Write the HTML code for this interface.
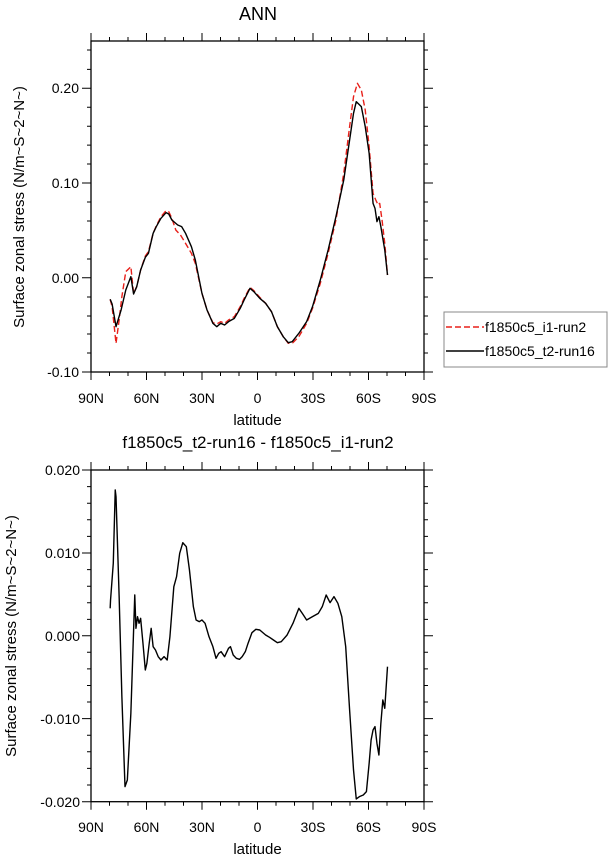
<!DOCTYPE html>
<html><head><style>
html,body{margin:0;padding:0;background:#fff;}
svg{display:block;font-family:"Liberation Sans",Arial,sans-serif;}
</style></head><body>
<svg width="608" height="860" viewBox="0 0 608 860" xmlns="http://www.w3.org/2000/svg">
<rect width="608" height="860" fill="#fff"/>
<!-- TOP PLOT -->
<text x="258" y="20" font-size="18" text-anchor="middle">ANN</text>
<rect x="91" y="41" width="333" height="331" fill="none" stroke="#000" stroke-width="1.3"/>
<g stroke="#000" stroke-width="1">
<path d="M91,372v8M146.5,372v8M202,372v8M257.5,372v8M313,372v8M368.5,372v8M424,372v8
M91,41v-8M146.5,41v-8M202,41v-8M257.5,41v-8M313,41v-8M368.5,41v-8M424,41v-8
M109.5,372v4M128,372v4M165,372v4M183.5,372v4M220.5,372v4M239,372v4M276,372v4M294.5,372v4M331.5,372v4M350,372v4M387,372v4M405.5,372v4
M109.5,41v-4M128,41v-4M165,41v-4M183.5,41v-4M220.5,41v-4M239,41v-4M276,41v-4M294.5,41v-4M331.5,41v-4M350,41v-4M387,41v-4M405.5,41v-4"/>
<path d="M91,88.3h-9M91,183h-9M91,277.7h-9M91,372h-9M424,88.3h9M424,183h9M424,277.7h9M424,372h9
M91,50h-4M91,69.4h-4M91,107.3h-4M91,126.2h-4M91,145.1h-4M91,164h-4M91,202h-4M91,221h-4M91,240h-4M91,259h-4M91,297h-4M91,316h-4M91,334h-4M91,353h-4
M424,50h4M424,69.4h4M424,107.3h4M424,126.2h4M424,145.1h4M424,164h4M424,202h4M424,221h4M424,240h4M424,259h4M424,297h4M424,316h4M424,334h4M424,353h4"/>
</g>
<g font-size="14" text-anchor="end">
<text x="79" y="93">0.20</text><text x="79" y="188">0.10</text><text x="79" y="283">0.00</text><text x="79" y="377">-0.10</text>
</g>
<g font-size="14" text-anchor="middle">
<text x="91" y="403">90N</text><text x="146.5" y="403">60N</text><text x="202" y="403">30N</text><text x="257.5" y="403">0</text><text x="313" y="403">30S</text><text x="368.5" y="403">60S</text><text x="424" y="403">90S</text>
</g>
<text x="257.5" y="425" font-size="15" text-anchor="middle">latitude</text>
<text transform="translate(24,207) rotate(-90)" font-size="15" text-anchor="middle">Surface zonal stress (N/m~S~2~N~)</text>
<g transform="scale(0.390625,0.33333)" fill="none" stroke-linejoin="round">
<polyline vector-effect="non-scaling-stroke" stroke="#e8201a" stroke-width="1.4" stroke-dasharray="6,3" points="282,898 287,920 297,1030 305,960 312,890 322,815 335,800 342,880 350,860 360,810 372,768 380,755 392,700 400,678 412,650 425,632 432,635 440,655 450,690 462,705 475,730 490,760 500,790 517,880 530,930 545,968 555,972 565,965 575,970 585,960 600,950 615,920 625,895 640,862 650,872 665,892 680,910 695,935 710,980 725,1010 738,1030 750,1028 765,1010 785,970 800,925 820,850 840,760 860,660 880,520 895,380 905,290 915,250 925,270 935,330 945,440 955,580 962,600 968,615 972,610 978,660 985,730 992,825"/>
<polyline vector-effect="non-scaling-stroke" stroke="#000" stroke-width="1.4" points="282,898 287,912 297,980 310,930 322,870 335,830 342,882 350,860 360,810 372,772 380,760 392,700 400,680 412,655 425,638 432,642 440,660 455,675 465,680 475,700 490,740 500,780 517,880 530,930 545,970 555,980 565,970 575,975 585,965 600,955 615,925 625,900 640,865 650,875 665,895 680,910 695,935 710,980 725,1010 738,1028 748,1025 765,1000 785,965 800,920 820,840 840,750 860,650 880,540 895,420 905,340 912,305 925,320 935,380 945,460 955,610 960,625 965,665 970,650 975,680 985,750 992,825"/>
</g>
<rect x="444" y="312" width="163" height="55" fill="#fff" stroke="#888" stroke-width="1"/>
<line x1="446" y1="327" x2="484" y2="327" stroke="#e8201a" stroke-width="1.4" stroke-dasharray="6,3"/>
<line x1="446" y1="351" x2="484" y2="351" stroke="#000" stroke-width="1.4"/>
<text x="485" y="332" font-size="14">f1850c5_i1-run2</text>
<text x="485" y="356" font-size="14">f1850c5_t2-run16</text>

<!-- BOTTOM PLOT -->
<text x="258" y="448" font-size="17" text-anchor="middle">f1850c5_t2-run16 - f1850c5_i1-run2</text>
<rect x="91" y="470" width="333" height="331.7" fill="none" stroke="#000" stroke-width="1.3"/>
<g stroke="#000" stroke-width="1">
<path d="M91,801.7v8M146.5,801.7v8M202,801.7v8M257.5,801.7v8M313,801.7v8M368.5,801.7v8M424,801.7v8
M91,470v-8M146.5,470v-8M202,470v-8M257.5,470v-8M313,470v-8M368.5,470v-8M424,470v-8
M109.5,801.7v4M128,801.7v4M165,801.7v4M183.5,801.7v4M220.5,801.7v4M239,801.7v4M276,801.7v4M294.5,801.7v4M331.5,801.7v4M350,801.7v4M387,801.7v4M405.5,801.7v4
M109.5,470v-4M128,470v-4M165,470v-4M183.5,470v-4M220.5,470v-4M239,470v-4M276,470v-4M294.5,470v-4M331.5,470v-4M350,470v-4M387,470v-4M405.5,470v-4"/>
<path d="M91,470h-9M91,553h-9M91,635.7h-9M91,718.6h-9M91,801.7h-9M424,470h9M424,553h9M424,635.7h9M424,718.6h9M424,801.7h9
M91,486.6h-4M91,503.2h-4M91,519.8h-4M91,536.4h-4M91,569.6h-4M91,586.2h-4M91,602.8h-4M91,619.4h-4M91,652.3h-4M91,668.9h-4M91,685.5h-4M91,702h-4M91,735.2h-4M91,751.8h-4M91,768.4h-4M91,785h-4
M424,486.6h4M424,503.2h4M424,519.8h4M424,536.4h4M424,569.6h4M424,586.2h4M424,602.8h4M424,619.4h4M424,652.3h4M424,668.9h4M424,685.5h4M424,702h4M424,735.2h4M424,751.8h4M424,768.4h4M424,785h4"/>
</g>
<g font-size="14" text-anchor="end">
<text x="80" y="475">0.020</text><text x="80" y="558">0.010</text><text x="80" y="641">0.000</text><text x="80" y="724">-0.010</text><text x="80" y="807">-0.020</text>
</g>
<g font-size="14" text-anchor="middle">
<text x="91" y="832">90N</text><text x="146.5" y="832">60N</text><text x="202" y="832">30N</text><text x="257.5" y="832">0</text><text x="313" y="832">30S</text><text x="368.5" y="832">60S</text><text x="424" y="832">90S</text>
</g>
<text x="257.5" y="854" font-size="15" text-anchor="middle">latitude</text>
<text transform="translate(16,636) rotate(-90)" font-size="15" text-anchor="middle">Surface zonal stress (N/m~S~2~N~)</text>
<g transform="translate(0,430) scale(0.390625,0.33333)" fill="none" stroke-linejoin="round">
<polyline vector-effect="non-scaling-stroke" stroke="#000" stroke-width="1.4" points="282,535 283,510 290,400 295,180 297,200 305,500 312,800 320,1070 326,1050 335,850 345,495 348,595 352,560 356,580 360,565 366,640 372,720 376,700 382,640 387,595 392,650 398,660 405,680 412,690 420,680 428,690 435,620 445,470 452,440 460,370 468,338 477,350 485,420 495,530 502,570 510,575 517,570 525,580 535,620 545,650 553,685 560,670 566,665 575,680 585,655 590,650 597,675 605,685 613,688 620,680 628,665 635,640 645,608 655,598 665,600 680,615 690,622 700,630 710,638 720,635 735,615 750,580 765,535 775,552 785,570 800,560 815,550 825,530 835,495 845,518 855,500 865,520 875,560 885,650 895,840 905,1020 912,1107 920,1100 930,1095 938,1085 945,1000 950,930 955,900 960,890 965,940 970,975 975,880 980,810 985,835 992,710"/>
</g>
</svg>
</body></html>
